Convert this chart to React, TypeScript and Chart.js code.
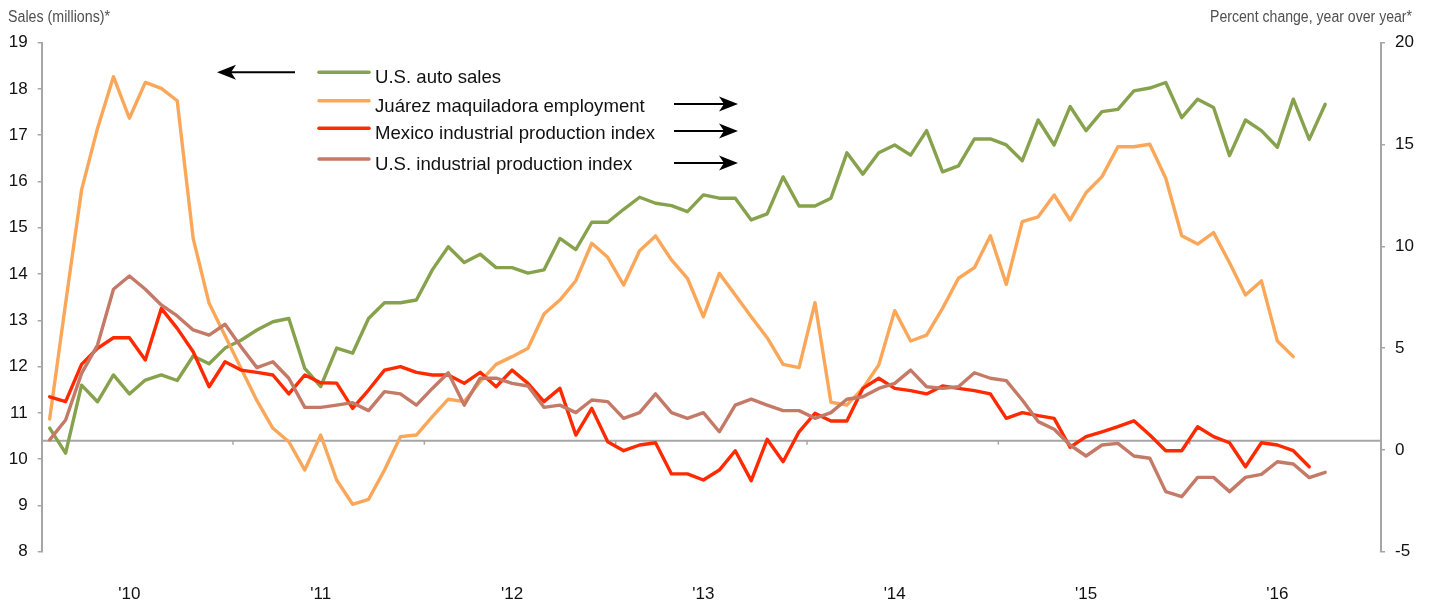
import React, { useEffect, useRef } from 'react';
import { Chart, registerables } from 'chart.js';

Chart.register(...registerables);

// ---- Data (monthly, Jan 2010 = index 0) ----
const YEAR_LABELS = ["'10", "'11", "'12", "'13", "'14", "'15", "'16"];
const YEAR_LABEL_POS = [5, 17, 29, 41, 53, 65, 77];
const YEAR_TICK_POS = [11.5, 23.5, 35.5, 47.5, 59.5, 71.5];
const X_MIN = -0.5;
const X_MAX = 83.5;
const AXIS_CROSS = 10.4;

const LEFT_TICKS = { min: 8, max: 19, step: 1 };
const RIGHT_TICKS = { min: -5, max: 20, step: 5 };

const US_AUTO_SALES = [
  10.67, 10.13, 11.60, 11.24, 11.82, 11.41, 11.71, 11.82, 11.70, 12.23,
  12.06, 12.40, 12.57, 12.79, 12.97, 13.04, 11.96, 11.57, 12.40, 12.29,
  13.04, 13.38, 13.38, 13.44, 14.09, 14.59, 14.25, 14.43, 14.14, 14.14,
  14.02, 14.09, 14.77, 14.53, 15.12, 15.12, 15.40, 15.66, 15.53, 15.48,
  15.35, 15.71, 15.64, 15.64, 15.17, 15.30, 16.10, 15.47, 15.47, 15.64,
  16.62, 16.16, 16.62, 16.79, 16.57, 17.10, 16.21, 16.34, 16.92, 16.92,
  16.79, 16.45, 17.33, 16.79, 17.62, 17.10, 17.51, 17.56, 17.96, 18.02,
  18.14, 17.38, 17.78, 17.60, 16.56, 17.33, 17.10, 16.74, 17.78, 16.91,
  17.67,
];

const JUAREZ_EMPLOYMENT = [
  1.52, 7.2, 12.77, 15.79, 18.33, 16.29, 18.05, 17.76, 17.15, 10.39,
  7.20, 5.61, 4.01, 2.42, 1.06, 0.40, -0.99, 0.73, -1.48, -2.67,
  -2.43, -0.99, 0.65, 0.73, 1.63, 2.49, 2.37, 3.35, 4.20, 4.58,
  4.99, 6.67, 7.36, 8.31, 10.15, 9.46, 8.10, 9.78, 10.51, 9.33,
  8.43, 6.54, 8.67, 7.61, 6.54, 5.51, 4.20, 4.04, 7.23, 2.34,
  2.20, 3.02, 4.17, 6.84, 5.35, 5.64, 6.95, 8.43, 8.95, 10.52,
  8.13, 11.21, 11.45, 12.52, 11.29, 12.63, 13.42, 14.89, 14.89, 15.01,
  13.34, 10.52, 10.11, 10.67, 9.19, 7.61, 8.30, 5.35, 4.58,
];

const MEXICO_IP = [
  2.61, 2.37, 4.20, 4.99, 5.51, 5.51, 4.42, 6.95, 5.97, 4.82,
  3.10, 4.33, 3.92, 3.81, 3.68, 2.75, 3.68, 3.30, 3.28, 2.04,
  2.94, 3.92, 4.09, 3.81, 3.68, 3.68, 3.27, 3.81, 3.10, 3.92,
  3.27, 2.37, 3.02, 0.73, 2.04, 0.40, -0.04, 0.24, 0.35, -1.18,
  -1.18, -1.48, -0.99, -0.04, -1.51, 0.52, -0.58, 0.89, 1.80, 1.42,
  1.42, 3.02, 3.52, 3.02, 2.91, 2.75, 3.14, 3.02, 2.91, 2.75,
  1.55, 1.83, 1.68, 1.55, 0.13, 0.65, 0.89, 1.14, 1.43, 0.73,
  -0.04, -0.04, 1.14, 0.65, 0.35, -0.83, 0.35, 0.24, -0.04, -0.83,
];

const US_IP = [
  0.49, 1.47, 3.76, 5.15, 7.89, 8.54, 7.89, 7.12, 6.58, 5.89,
  5.64, 6.17, 5.07, 4.04, 4.33, 3.52, 2.09, 2.09, 2.20, 2.32,
  1.93, 2.86, 2.75, 2.20, 3.02, 3.79, 2.20, 3.52, 3.52, 3.27,
  3.14, 2.09, 2.20, 1.83, 2.45, 2.37, 1.55, 1.83, 2.75, 1.83,
  1.55, 1.83, 0.89, 2.20, 2.49, 2.20, 1.93, 1.93, 1.55, 1.83,
  2.49, 2.61, 3.02, 3.27, 3.92, 3.10, 3.02, 3.10, 3.79, 3.52,
  3.40, 2.45, 1.39, 1.01, 0.24, -0.30, 0.24, 0.32, -0.30, -0.41,
  -2.05, -2.30, -1.35, -1.35, -2.05, -1.35, -1.20, -0.58, -0.69, -1.36,
  -1.10,
];

const SERIES_NAMES = [
  'U.S. auto sales',
  'Juárez maquiladora employment',
  'Mexico industrial production index',
  'U.S. industrial production index',
];
const SERIES_COLORS = ['#87a24c', '#fba75a', '#ff2a00', '#c47a66'];
const LEFT_TITLE = 'Sales (millions)*';
const RIGHT_TITLE = 'Percent change, year over year*';

const AXIS_GREY = '#a6a6a6';
const TEXT_FONT = '"Liberation Sans", Arial, Helvetica, sans-serif';

const toPoints = (arr: number[]) => arr.map((v, i) => ({ x: i, y: v }));

function drawArrow(ctx: CanvasRenderingContext2D, x1: number, x2: number, y: number) {
  const dir = x2 > x1 ? 1 : -1;
  const headLen = 19;
  const halfW = 7.5;
  ctx.save();
  ctx.strokeStyle = '#000';
  ctx.fillStyle = '#000';
  ctx.lineWidth = 2;
  ctx.beginPath();
  ctx.moveTo(x1, y);
  ctx.lineTo(x2 - dir * 8, y);
  ctx.stroke();
  ctx.beginPath();
  ctx.moveTo(x2, y);
  ctx.lineTo(x2 - dir * headLen, y - halfW);
  ctx.lineTo(x2 - dir * (headLen - 5), y);
  ctx.lineTo(x2 - dir * headLen, y + halfW);
  ctx.closePath();
  ctx.fill();
  ctx.restore();
}

function drawCondensed(ctx: CanvasRenderingContext2D, text: string, x: number, y: number, align: 'left' | 'right', sx: number) {
  ctx.save();
  ctx.translate(x, y);
  ctx.scale(sx, 1);
  ctx.textAlign = align;
  ctx.fillText(text, 0, 0);
  ctx.restore();
}

const decorPlugin = {
  id: 'decor',
  beforeDatasetsDraw(chart: any) {
    const { ctx, chartArea, scales } = chart;
    const y = scales.y.getPixelForValue(AXIS_CROSS);
    ctx.save();
    ctx.strokeStyle = AXIS_GREY;
    ctx.lineWidth = 2;
    ctx.beginPath();
    ctx.moveTo(chartArea.left, y);
    ctx.lineTo(chartArea.right, y);
    ctx.stroke();
    ctx.lineWidth = 1.5;
    YEAR_TICK_POS.forEach((p) => {
      const x = scales.x.getPixelForValue(p);
      ctx.beginPath();
      ctx.moveTo(x, y);
      ctx.lineTo(x, y + 4);
      ctx.stroke();
    });
    ctx.restore();
  },
  afterDraw(chart: any) {
    const { ctx } = chart;
    ctx.save();
    // axis titles (condensed)
    ctx.fillStyle = '#505050';
    ctx.font = `16px ${TEXT_FONT}`;
    ctx.textBaseline = 'middle';
    drawCondensed(ctx, LEFT_TITLE, 8, 18, 'left', 0.89);
    drawCondensed(ctx, RIGHT_TITLE, 1412, 18, 'right', 0.88);

    // legend
    const rowsY = [72.3, 100.7, 128.3, 159];
    ctx.lineCap = 'round';
    ctx.lineWidth = 3.5;
    SERIES_NAMES.forEach((name, i) => {
      ctx.strokeStyle = SERIES_COLORS[i];
      ctx.beginPath();
      ctx.moveTo(319, rowsY[i]);
      ctx.lineTo(369, rowsY[i]);
      ctx.stroke();
      ctx.fillStyle = '#111';
      ctx.font = `18.6px ${TEXT_FONT}`;
      ctx.textAlign = 'left';
      ctx.textBaseline = 'alphabetic';
      ctx.fillText(name, 375, rowsY[i] + 11);
    });
    ctx.restore();

    drawArrow(ctx, 295, 217, 72.3);
    drawArrow(ctx, 674, 738, 104);
    drawArrow(ctx, 674, 738, 131);
    drawArrow(ctx, 674, 738, 163);
  },
};

export default function App() {
  const canvasRef = useRef<HTMLCanvasElement | null>(null);

  useEffect(() => {
    const canvas = canvasRef.current;
    if (!canvas) return;
    const common = {
      pointRadius: 0,
      borderWidth: 3.4,
      tension: 0,
      fill: false,
      borderJoinStyle: 'round' as const,
      borderCapStyle: 'round' as const,
    };
    const chart = new Chart(canvas, {
      type: 'line',
      data: {
        datasets: [
          { ...common, label: SERIES_NAMES[0], data: toPoints(US_AUTO_SALES), borderColor: SERIES_COLORS[0], yAxisID: 'y', order: 4 },
          { ...common, label: SERIES_NAMES[1], data: toPoints(JUAREZ_EMPLOYMENT), borderColor: SERIES_COLORS[1], yAxisID: 'y1', order: 3 },
          { ...common, label: SERIES_NAMES[2], data: toPoints(MEXICO_IP), borderColor: SERIES_COLORS[2], yAxisID: 'y1', order: 2 },
          { ...common, label: SERIES_NAMES[3], data: toPoints(US_IP), borderColor: SERIES_COLORS[3], yAxisID: 'y1', order: 1 },
        ],
      },
      options: {
        animation: false,
        responsive: false,
        maintainAspectRatio: false,
        layout: { padding: { top: 42.7, left: 0, right: 0, bottom: 0 } },
        plugins: { legend: { display: false }, tooltip: { enabled: false } },
        scales: {
          x: {
            type: 'linear',
            min: X_MIN,
            max: X_MAX,
            afterBuildTicks: (axis: any) => {
              axis.ticks = YEAR_LABEL_POS.map((v) => ({ value: v }));
            },
            afterFit: (axis: any) => {
              axis.height = 52.3;
            },
            ticks: {
              autoSkip: false,
              maxRotation: 0,
              padding: 24,
              color: '#111',
              font: { family: TEXT_FONT, size: 17 },
              callback: (_v: any, i: number) => YEAR_LABELS[i],
            },
            grid: { display: false },
            border: { display: false },
          },
          y: {
            position: 'left',
            min: LEFT_TICKS.min,
            max: LEFT_TICKS.max,
            afterFit: (axis: any) => {
              axis.width = 41.7;
            },
            ticks: {
              stepSize: LEFT_TICKS.step,
              padding: 10,
              color: '#111',
              font: { family: TEXT_FONT, size: 17 },
            },
            grid: { drawOnChartArea: false, drawTicks: true, tickLength: 4, color: AXIS_GREY, lineWidth: 1.5 },
            border: { display: true, color: AXIS_GREY, width: 2 },
          },
          y1: {
            position: 'right',
            min: RIGHT_TICKS.min,
            max: RIGHT_TICKS.max,
            afterFit: (axis: any) => {
              axis.width = 48;
            },
            ticks: {
              stepSize: RIGHT_TICKS.step,
              padding: 10,
              color: '#111',
              font: { family: TEXT_FONT, size: 17 },
            },
            grid: { drawOnChartArea: false, drawTicks: true, tickLength: 4, color: AXIS_GREY, lineWidth: 1.5 },
            border: { display: true, color: AXIS_GREY, width: 2 },
          },
        },
      } as any,
      plugins: [decorPlugin],
    });
    return () => chart.destroy();
  }, []);

  return (
    <div style={{ position: 'fixed', left: 0, top: 0, width: 1429, height: 604, background: '#fff' }}>
      <canvas ref={canvasRef} width={1429} height={604} style={{ display: 'block' }} />
    </div>
  );
}
